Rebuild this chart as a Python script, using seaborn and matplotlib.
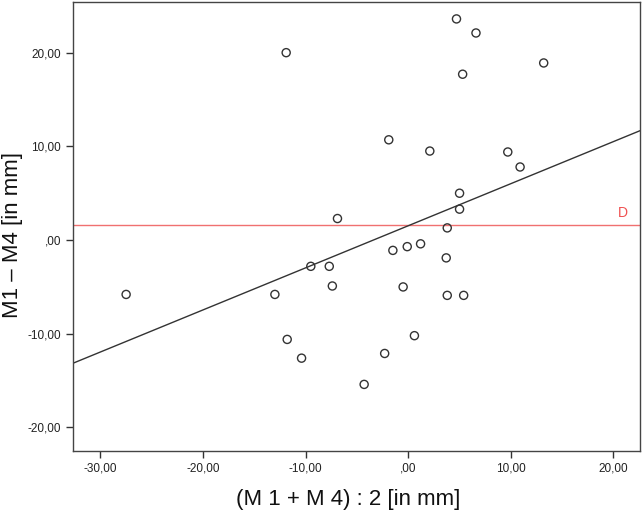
import numpy as np
import pandas as pd
import matplotlib
matplotlib.use("Agg")
import matplotlib.pyplot as plt
import seaborn as sns
from matplotlib.ticker import FuncFormatter

# === DATOS ===
mean_m1_m4 = [-27.5, -13.0, -11.9, -11.8, -10.4, -9.5, -7.7, -7.4, -6.9, -4.3,
              -2.3, -1.9, -1.5, -0.5, -0.1, 0.6, 1.2, 2.1, 3.7, 3.8,
              3.8, 4.7, 5.0, 5.0, 5.3, 5.4, 6.6, 9.7, 10.9, 13.2]
diff_m1_m4 = [-5.8, -5.8, 20.0, -10.6, -12.6, -2.8, -2.8, -4.9, 2.3, -15.4,
              -12.1, 10.7, -1.1, -5.0, -0.7, -10.2, -0.4, 9.5, -1.9, 1.3,
              -5.9, 23.6, 5.0, 3.3, 17.7, -5.9, 22.1, 9.4, 7.8, 18.9]
# Linea de ajuste tal como aparece en el grafico original
fit_intercept = 1.53
fit_slope = 0.449
x_ticks = [-30, -20, -10, 0, 10, 20]
y_ticks = [-20, -10, 0, 10, 20]

df = pd.DataFrame({"mean": mean_m1_m4, "diff": diff_m1_m4})
d_mean = df["diff"].mean()

sns.set_theme(style="white")
plt.rcParams["font.family"] = ["Liberation Sans", "DejaVu Sans"]


def spss_fmt(v, pos):
    s = f"{v:.2f}".replace(".", ",")
    if s.startswith("0,"):
        s = s[1:]
    elif s.startswith("-0,"):
        s = s[2:]
    return s


fig = plt.figure(figsize=(6.44, 5.13), dpi=100)
ax = fig.add_axes([0.113, 0.121, 0.881, 0.875])
ax.set_xlim(-32.7, 22.6)
ax.set_ylim(-22.5, 25.4)

sns.scatterplot(
    data=df, x="mean", y="diff", ax=ax, s=34, marker="o",
    facecolors="none", edgecolor="#333333", linewidth=1.0, zorder=3,
)
ax.axline((0, fit_intercept), slope=fit_slope, color="#333333",
          linewidth=1.0, zorder=2)

ax.axhline(d_mean, color="#f07070", linewidth=1.0, zorder=1)
ax.text(20.9, d_mean + 0.5, "D", color="#f05050", fontsize=10,
        ha="center", va="bottom")

ax.set_xticks(x_ticks)
ax.set_yticks(y_ticks)
ax.xaxis.set_major_formatter(FuncFormatter(spss_fmt))
ax.yaxis.set_major_formatter(FuncFormatter(spss_fmt))
ax.tick_params(axis="both", direction="out", length=5, width=1,
               color="#333333", labelsize=8.5, labelcolor="#222222",
               bottom=True, left=True)

for sp in ax.spines.values():
    sp.set_color("#444444")
    sp.set_linewidth(1.0)

ax.set_xlabel("(M 1 + M 4) : 2 [in mm]", fontsize=16, color="#111111")
ax.set_ylabel("M1 \u2013 M4 [in mm]", fontsize=16, color="#111111")
ax.xaxis.set_label_coords(0.485, -0.085)
ax.yaxis.set_label_coords(-0.088, 0.48)

fig.savefig("out.png", dpi=100, facecolor="white")
plt.close(fig)
